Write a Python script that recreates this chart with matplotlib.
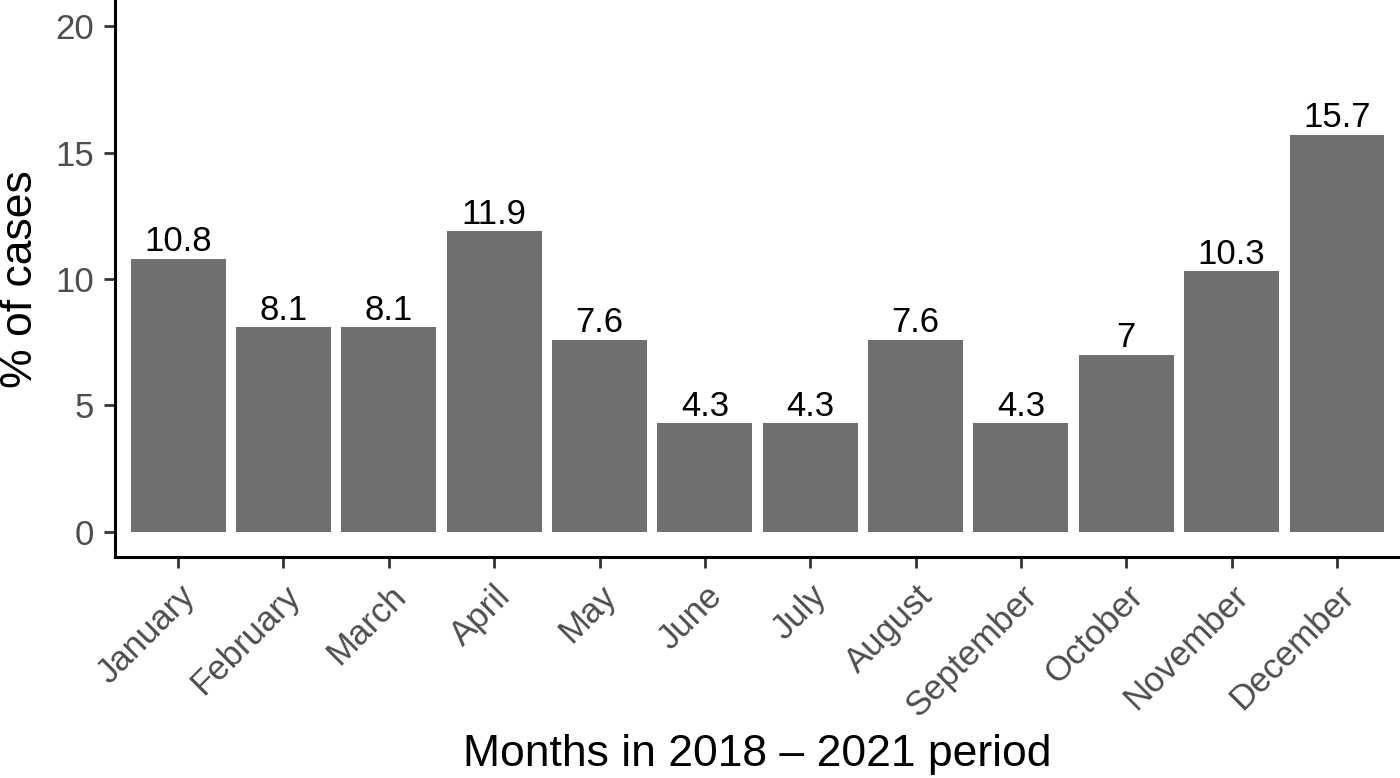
import matplotlib
matplotlib.use("Agg")
import matplotlib.pyplot as plt

months = ["January", "February", "March", "April", "May", "June",
          "July", "August", "September", "October", "November", "December"]
pct_cases = [10.8, 8.1, 8.1, 11.9, 7.6, 4.3, 4.3, 7.6, 4.3, 7.0, 10.3, 15.7]
value_labels = ["10.8", "8.1", "8.1", "11.9", "7.6", "4.3",
                "4.3", "7.6", "4.3", "7", "10.3", "15.7"]
y_ticks = [0, 5, 10, 15, 20]

plt.rcParams["font.family"] = ["Liberation Sans", "DejaVu Sans"]

fig = plt.figure(figsize=(14, 7.78), dpi=100)
ax = fig.add_axes([0.0821, 0.284, 0.918, 0.7147])

x = range(len(months))
ax.bar(x, pct_cases, width=0.9, color="#6f6f6f", linewidth=0)
for xi, v, lab in zip(x, pct_cases, value_labels):
    ax.text(xi, v + 0.02, lab, ha="center", va="bottom", fontsize=25, color="black")

ax.set_xlim(-0.6, len(months) - 0.4)
ax.set_ylim(-1, 21)
ax.set_yticks(y_ticks)
ax.set_xticks(list(x))
ax.set_xticklabels(months, rotation=45, ha="right", rotation_mode="anchor")

for side in ("top", "right"):
    ax.spines[side].set_visible(False)
for side in ("left", "bottom"):
    ax.spines[side].set_linewidth(2.2)
    ax.spines[side].set_color("black")

ax.tick_params(axis="both", length=8, width=2, color="#333333",
               labelsize=25, labelcolor="#4d4d4d")
ax.tick_params(axis="y", pad=7)
ax.tick_params(axis="x", pad=8)

ax.set_xlabel("Months in 2018 \u2013 2021 period", fontsize=32, labelpad=8)
ax.set_ylabel("% of cases", fontsize=32, labelpad=10)

fig.savefig("out.png", dpi=100)
